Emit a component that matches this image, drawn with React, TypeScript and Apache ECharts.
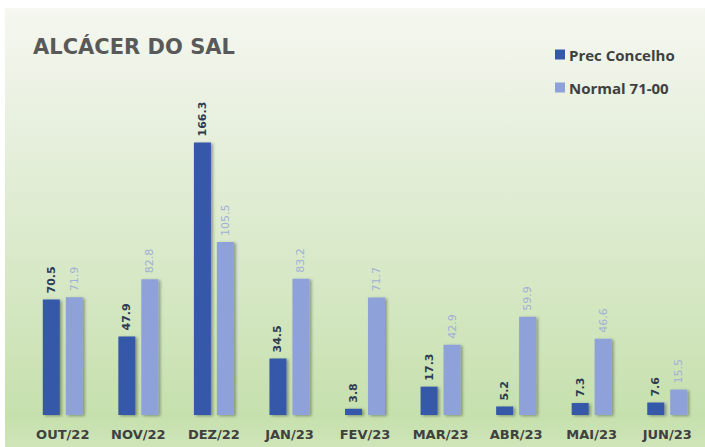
import React, { useEffect, useRef } from "react";
import * as echarts from "echarts";

const categories = ["OUT/22", "NOV/22", "DEZ/22", "JAN/23", "FEV/23", "MAR/23", "ABR/23", "MAI/23", "JUN/23"];
const precConcelho = [70.5, 47.9, 166.3, 34.5, 3.8, 17.3, 5.2, 7.3, 7.6];
const normal7100 = [71.9, 82.8, 105.5, 83.2, 71.7, 42.9, 59.9, 46.6, 15.5];
const seriesNames = ["Prec Concelho", "Normal 71-00"];
const titleText = "ALCÁCER DO SAL";

export default function App() {
  const ref = useRef<HTMLDivElement>(null);
  useEffect(() => {
    if (!ref.current) return;
    const chart = echarts.init(ref.current, undefined, { renderer: "svg" });
    const shadow = {
      shadowColor: "rgba(0,0,0,0.35)",
      shadowBlur: 3,
      shadowOffsetX: 2,
      shadowOffsetY: 1,
    };
    chart.setOption({
      animation: false,
      graphic: [
        {
          type: "rect",
          z: -10,
          silent: true,
          shape: { x: 5, y: 8, width: 700, height: 439 },
          style: {
            fill: new echarts.graphic.LinearGradient(0, 0, 0, 1, [
              { offset: 0, color: "#f5f7f0" },
              { offset: 0.3, color: "#e6efdc" },
              { offset: 0.7, color: "#d2e6bf" },
              { offset: 0.93, color: "#c6e0ad" },
              { offset: 1, color: "#cfe5b9" },
            ]),
          },
        },
      ],
      title: {
        text: titleText,
        left: 28,
        top: 31,
        textStyle: {
          fontFamily: "DejaVu Sans",
          fontWeight: "bold",
          fontSize: 21,
          color: "#595959",
        },
      },
      legend: {
        orient: "vertical",
        left: 550,
        top: 42,
        itemWidth: 10,
        itemHeight: 10,
        itemGap: 18,
        icon: "rect",
        data: seriesNames,
        textStyle: {
          fontFamily: "Open Sans",
          fontWeight: "bold",
          fontSize: 15,
          color: "#404040",
          padding: [0, 0, 0, -1],
        },
      },
      grid: { left: 25, width: 685, top: 120, bottom: 32 },
      xAxis: {
        type: "category",
        data: categories,
        axisLine: { show: false },
        axisTick: { show: false },
        axisLabel: {
          margin: 13,
          fontFamily: "DejaVu Sans",
          fontWeight: "bold",
          fontSize: 13,
          color: "#404040",
        },
      },
      yAxis: {
        type: "value",
        min: 0,
        max: 180,
        show: false,
        splitLine: { show: false },
      },
      series: [
        {
          name: seriesNames[0],
          type: "bar",
          data: precConcelho,
          barWidth: 17,
          barGap: "35%",
          itemStyle: { color: "#3459a8", ...shadow },
          label: {
            show: true,
            position: "top",
            rotate: 90,
            distance: 6,
            align: "left",
            verticalAlign: "middle",
            fontFamily: "DejaVu Sans",
            fontSize: 11,
            fontWeight: "bold",
            color: "#2e3a52",
          },
        },
        {
          name: seriesNames[1],
          type: "bar",
          data: normal7100,
          barWidth: 17,
          itemStyle: { color: "#8ea2d9", ...shadow },
          label: {
            show: true,
            position: "top",
            rotate: 90,
            distance: 6,
            align: "left",
            verticalAlign: "middle",
            fontFamily: "DejaVu Sans",
            fontSize: 11,
            color: "#a2afd6",
          },
        },
      ],
    });
    return () => chart.dispose();
  }, []);
  return (
    <div
      ref={ref}
      style={{ position: "fixed", left: 0, top: 0, width: 705, height: 447, background: "#ffffff" }}
    />
  );
}
